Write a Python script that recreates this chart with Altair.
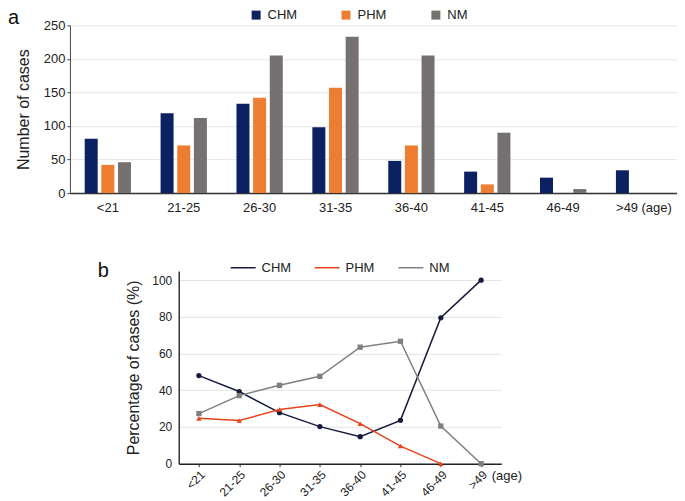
import altair as alt
import pandas as pd

# ---------------- data ----------------
categories = ["<21", "21-25", "26-30", "31-35", "36-40", "41-45", "46-49", ">49"]
series = ["CHM", "PHM", "NM"]

# panel a: number of cases
chm_counts = [81, 119, 133, 98, 48, 32, 23, 34]
phm_counts = [42, 71, 142, 157, 71, 13, 0, 0]
nm_counts = [46, 112, 205, 233, 205, 90, 6, 0]

# panel b: percentage of cases
chm_pct = [48.0, 39.3, 27.8, 20.2, 14.7, 23.6, 79.5, 100.0]
phm_pct = [24.7, 23.5, 29.5, 32.2, 21.8, 9.6, 0.0, None]
nm_pct = [27.3, 37.1, 42.7, 47.6, 63.5, 66.7, 20.5, 0.0]

bar_colors = ["#0b2161", "#ED7D31", "#767171"]
line_colors = ["#161b3d", "#E8431A", "#7f7f7f"]
marker_shapes = ["circle", "triangle-up", "square"]

FONT = "Liberation Sans"

rows_a = []
for s, vals in zip(series, [chm_counts, phm_counts, nm_counts]):
    for c, v in zip(categories, vals):
        rows_a.append({"age": c, "series": s, "count": v})
df_a = pd.DataFrame(rows_a)

rows_b = []
for s, vals in zip(series, [chm_pct, phm_pct, nm_pct]):
    for c, v in zip(categories, vals):
        if v is not None:
            rows_b.append({"age": c, "group": s, "marker": s, "pct": v})
df_b = pd.DataFrame(rows_b)

# ---------------- panel a ----------------
bars = alt.Chart(df_a).mark_bar().encode(
    x=alt.X(
        "age:N",
        sort=categories,
        scale=alt.Scale(paddingInner=0.39, paddingOuter=0.195),
        axis=alt.Axis(
            title="(age)",
            titleX=572,
            titleY=8,
            titleAlign="left",
            titleBaseline="top",
            titleFontSize=13,
            titleFontWeight="normal",
            titleColor="#222",
            labelAngle=0,
            ticks=False,
            labelPadding=8,
            labelFontSize=13,
            labelColor="#222",
            labelOffset={"condition": {"test": "datum.value == '>49'", "value": -12}, "value": 0},
            domainColor="#333",
            domainWidth=1.5,
            grid=False,
        ),
    ),
    xOffset=alt.XOffset("series:N", sort=series, scale=alt.Scale(paddingInner=0.22)),
    y=alt.Y(
        "count:Q",
        scale=alt.Scale(domain=[0, 250]),
        axis=alt.Axis(
            title="Number of cases",
            values=[0, 50, 100, 150, 200, 250],
            tickSize=3,
            tickColor="#444",
            labelPadding=2,
            labelFontSize=13,
            labelColor="#222",
            titlePadding=12,
            titleFontSize=16,
            titleFontWeight="normal",
            titleColor="#222",
            domainColor="#444",
            gridColor="#e6e6e6",
        ),
    ),
    color=alt.Color(
        "series:N",
        sort=series,
        scale=alt.Scale(domain=series, range=bar_colors),
        legend=alt.Legend(
            title=None,
            orient="none",
            legendX=180,
            legendY=-17,
            direction="horizontal",
            gridAlign="all",
            symbolType="square",
            symbolSize=81,
            symbolStrokeWidth=0,
            labelFontSize=13,
            labelColor="#222",
            labelOffset=5,
            columnPadding=42,
            padding=0,
        ),
    ),
).properties(
    width=608,
    height=168,
    title=alt.TitleParams("a", anchor="start", frame="group", dx=-62, fontSize=20,
                          fontWeight="normal", offset=-20, color="#111"),
)

# ---------------- panel b ----------------
xb = alt.X(
    "age:N",
    sort=categories,
    scale=alt.Scale(type="point", padding=0.5),
    axis=alt.Axis(
        title="(age)",
        titleX=313,
        titleY=12,
        titleAlign="left",
        titleBaseline="middle",
        titleFontSize=13,
        titleFontWeight="normal",
        titleColor="#222",
        labelAngle=-45,
        tickSize=3,
        tickColor="#333",
        labelPadding=2,
        labelFontSize=12,
        labelColor="#222",
        domainColor="#222",
        domainWidth=1.5,
        grid=False,
    ),
)
yb = alt.Y(
    "pct:Q",
    scale=alt.Scale(domain=[0, 105]),
    axis=alt.Axis(
        title="Percentage of cases (%)",
        values=[0, 20, 40, 60, 80, 100],
        ticks=False,
        labelPadding=7,
        labelFontSize=12,
        labelColor="#222",
        titlePadding=10,
        titleFontSize=16,
        titleFontWeight="normal",
        titleColor="#222",
        domainColor="#333",
        domainWidth=1.5,
        gridColor="#e3e3e3",
    ),
)

lines = alt.Chart(df_b).mark_line(strokeWidth=1.5).encode(
    x=xb,
    y=yb,
    color=alt.Color(
        "group:N",
        sort=series,
        scale=alt.Scale(domain=series, range=line_colors),
        legend=alt.Legend(
            title=None,
            orient="none",
            legendX=160,
            legendY=-17,
            direction="horizontal",
            gridAlign="all",
            symbolType="stroke",
            symbolSize=625,
            symbolStrokeWidth=1.5,
            labelFontSize=13,
            labelColor="#222",
            labelOffset=5,
            columnPadding=20,
            padding=0,
        ),
    ),
)

# marker scales use a data-driven domain (ordered like the series list)
points = alt.Chart(df_b).mark_point(filled=True, opacity=1, size=28, strokeWidth=0).encode(
    x=xb,
    y=yb,
    fill=alt.Fill("marker:N", sort=series, scale=alt.Scale(range=line_colors), legend=None),
    shape=alt.Shape("marker:N", sort=series, scale=alt.Scale(range=marker_shapes), legend=None),
)

panel_b = alt.layer(lines, points).properties(
    width=323,
    height=193,
    title=alt.TitleParams("b", anchor="start", frame="group", dx=-81, fontSize=20,
                          fontWeight="normal", offset=-10, color="#111"),
)

spacer = alt.Chart(pd.DataFrame({"v": [0]})).mark_point(opacity=0).encode(
    x=alt.value(0), y=alt.value(0)
).properties(width=28, height=193)

bottom = alt.hconcat(spacer, panel_b, spacing=0)

chart = alt.vconcat(bars, bottom, spacing=40).resolve_scale(
    color="independent", shape="independent", fill="independent"
).properties(
    padding={"left": 0, "top": 0, "right": 0, "bottom": 0}
).configure(font=FONT).configure_view(strokeWidth=0)

chart.save("out.html", embed_options={"renderer": "svg", "actions": False})
